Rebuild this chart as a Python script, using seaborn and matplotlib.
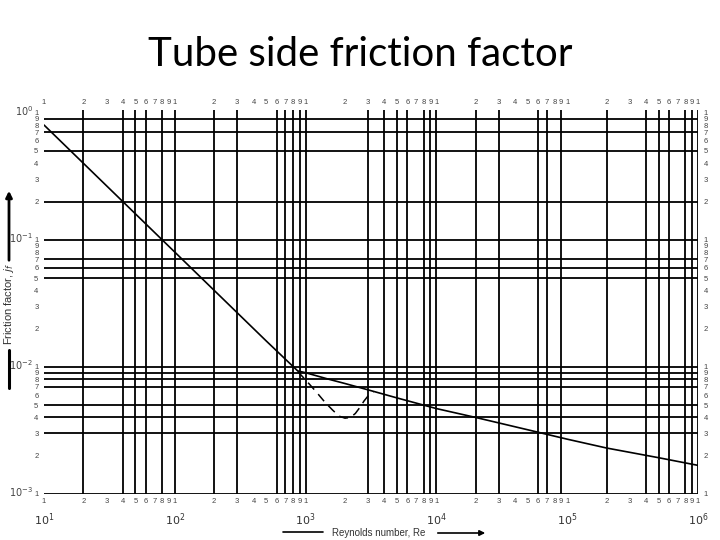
import numpy as np
import pandas as pd
import matplotlib
matplotlib.use("Agg")
import matplotlib.pyplot as plt
import seaborn as sns

# ---------------- data ----------------
re_solid = [10, 20, 50, 100, 200, 500, 870, 1000, 1500, 2000, 3000, 5000, 10000,
            20000, 50000, 100000, 200000, 500000, 1000000]
jf_solid = [0.80, 0.40, 0.16, 0.080, 0.040, 0.016, 0.0093, 0.0090, 0.0080, 0.0074,
            0.0066, 0.0057, 0.0047, 0.0040, 0.0032, 0.0027, 0.0023, 0.00193, 0.00168]

re_dash = [870, 1000, 1200, 1400, 1600, 1800, 2000, 2200, 2400, 2600, 2800,
           3000, 3300]
jf_dash = [0.0092, 0.0079, 0.0064, 0.0053, 0.0046, 0.0041, 0.00395, 0.0040,
           0.0043, 0.0048, 0.0054, 0.0059, 0.0064]

x_grid = [20, 40, 50, 60, 80, 100,
          200, 300, 600, 700, 800, 900, 1000,
          3000, 4000, 5000, 6000, 8000, 9000, 10000,
          20000, 30000, 60000, 70000, 90000,
          200000, 400000, 500000, 600000, 800000, 900000, 1000000]
y_grid = [0.9, 0.7, 0.5, 0.2, 0.1,
          0.07, 0.06, 0.05, 0.01,
          0.009, 0.008, 0.007, 0.005, 0.004, 0.003, 0.001]

x_decades = [1, 2, 3, 4, 5]
y_decades = [-3, -2, -1]
digit_labels = ["1", "2", "3", "4", "5", "6", "7", "8", "9"]

title = "Tube side friction factor"
xlabel = "Reynolds number, Re"
ylabel = "Friction factor, $j_f$"

# ---------------- figure ----------------
sns.set_theme(style="white")
plt.rcParams["font.family"] = ["Liberation Sans", "DejaVu Sans"]

fig = plt.figure(figsize=(7.2, 5.4), dpi=100)
ax = fig.add_axes([44 / 720, 1 - 494 / 540, (698 - 44) / 720, (494 - 110) / 540])

df_solid = pd.DataFrame({"Re": re_solid, "jf": jf_solid})
df_dash = pd.DataFrame({"Re": re_dash, "jf": jf_dash})

ax.set_xscale("log")
ax.set_yscale("log")
ax.set_xlim(10, 1e6)
ax.set_ylim(1e-3, 1.05)

for xv in x_grid:
    ax.axvline(xv, color="black", lw=1.3, zorder=1)
for yv in y_grid:
    ax.axhline(yv, color="black", lw=1.3, zorder=1)

sns.lineplot(data=df_solid, x="Re", y="jf", ax=ax, color="black", lw=1.2,
             zorder=3, estimator=None, sort=False)
sns.lineplot(data=df_dash, x="Re", y="jf", ax=ax, color="black", lw=1.1,
             zorder=3, estimator=None, sort=False, linestyle=(0, (6, 4)))

for s in ax.spines.values():
    s.set_visible(False)

# tick digits
xt, xl = [], []
for d in x_decades:
    for k in range(1, 10):
        xt.append(k * 10.0 ** d)
        xl.append(digit_labels[k - 1])
xt.append(1e6)
xl.append("1")
yt, yl = [], []
for d in y_decades:
    for k in range(1, 10):
        yt.append(k * 10.0 ** d)
        yl.append(digit_labels[k - 1])
yt.append(1.0)
yl.append("1")

ax.xaxis.set_major_locator(matplotlib.ticker.FixedLocator(xt))
ax.xaxis.set_minor_locator(matplotlib.ticker.NullLocator())
ax.set_xticklabels(xl)
ax.yaxis.set_major_locator(matplotlib.ticker.FixedLocator(yt))
ax.yaxis.set_minor_locator(matplotlib.ticker.NullLocator())
ax.set_yticklabels(yl)
ax.tick_params(axis="x", which="both", length=0, labelsize=5.5, labelcolor="#444444",
               top=False, labeltop=True, labelbottom=True, pad=3)
ax.tick_params(axis="y", which="both", length=0, labelsize=5.5, labelcolor="#444444",
               right=False, labelright=True, labelleft=True, pad=4)
ax.set_xlabel("")
ax.set_ylabel("")
ax.grid(False)

# decade labels
for d in x_decades + [6]:
    ax.annotate(f"$10^{{{d}}}$", xy=(10.0 ** d, 0), xycoords=("data", "axes fraction"),
                xytext=(0, -26 * 0.72), textcoords="offset points",
                ha="center", va="center", fontsize=8, color="#333333")
for d in y_decades + [0]:
    ax.annotate(f"$10^{{{d}}}$", xy=(0, 10.0 ** d), xycoords=("axes fraction", "data"),
                xytext=(-11 * 0.72, 2 * 0.72), textcoords="offset points",
                ha="right", va="center", fontsize=7, color="#444444")

# axis titles with arrows
fig.text(379 / 720, 1 - 533 / 540, xlabel, ha="center", va="center",
         fontsize=7, color="#333333")
fig.add_artist(matplotlib.lines.Line2D([283 / 720, 323 / 720], [1 - 532 / 540] * 2,
                                       color="black", lw=1.2))
ax.annotate("", xy=(488 / 720, 1 - 533 / 540), xytext=(435 / 720, 1 - 533 / 540),
            xycoords="figure fraction", textcoords="figure fraction",
            arrowprops=dict(arrowstyle="-|>", color="black", lw=1.2,
                            mutation_scale=8))

fig.text(9 / 720, 1 - 304 / 540, ylabel, ha="center", va="center", rotation=90,
         fontsize=8, color="#333333")
ax.annotate("", xy=(9 / 720, 1 - 188 / 540), xytext=(9 / 720, 1 - 263 / 540),
            xycoords="figure fraction", textcoords="figure fraction",
            arrowprops=dict(arrowstyle="-|>", color="black", lw=2,
                            mutation_scale=9))
fig.add_artist(matplotlib.lines.Line2D([9 / 720] * 2, [1 - 350 / 540, 1 - 388 / 540],
                                       color="black", lw=2.2))

fig.text(360 / 720, 1 - 54 / 540, title, ha="center", va="center",
         fontsize=29, family=["Lato", "DejaVu Sans"], color="black")

fig.savefig("out.png", dpi=100)
